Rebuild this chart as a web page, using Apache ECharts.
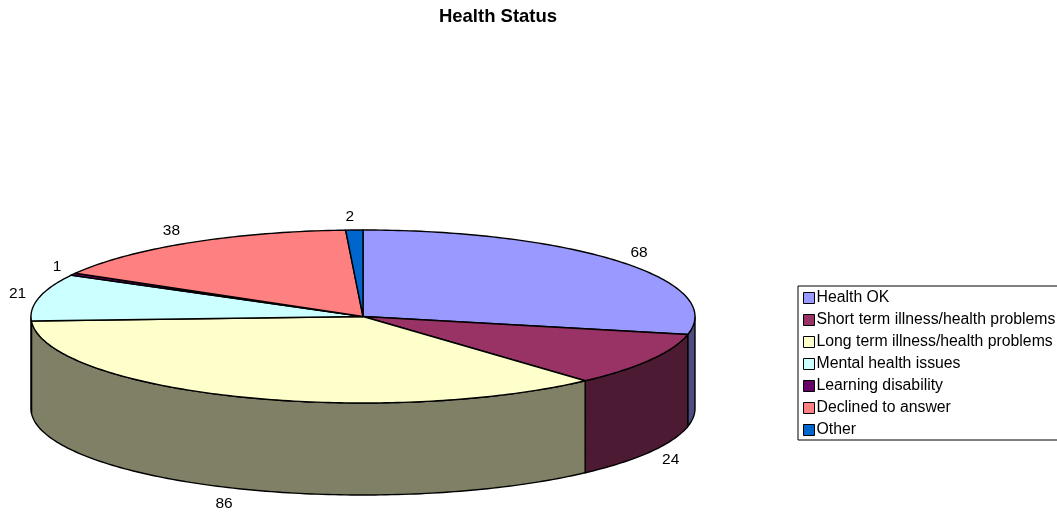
<!DOCTYPE html>
<html>
<head>
<meta charset="utf-8">
<title>Health Status</title>
<style>
  html, body { margin: 0; padding: 0; background: #fff; }
  #main { width: 1057px; height: 512px; }
</style>
<script src="https://cdn.jsdelivr.net/npm/echarts@6/dist/echarts.min.js"></script>
</head>
<body>
<div id="main"></div>
<script>
// data
var categories = [
  'Health OK',
  'Short term illness/health problems',
  'Long term illness/health problems',
  'Mental health issues',
  'Learning disability',
  'Declined to answer',
  'Other'
]
var values = [68, 24, 86, 21, 1, 38, 2]
var colors = ['#9999FF', '#993366', '#FFFFCC', '#CCFFFF', '#660066', '#FF8080', '#0066CC']
var sideColors = ['#4D4D80', '#4D1A33', '#808066', '#668080', '#330033', '#804040', '#003366']

// pie geometry, the pie is an ellipse with a wall below it
var cx = 363
var cy = 316.5
var rx = 332
var ry = 86.5
var depth = 92
// small per label nudges, the labels do not sit on one exact ring
var labelNudge = [[0, 0], [0, 1], [-3, 2], [1, 0], [4, 0], [-6, 1], [-4, 1]]

var total = 0
for (var i = 0; i < values.length; i++) {
  total += values[i]
}

// t is degrees clockwise from the top of the ellipse
function rim(t, drop) {
  var a = t * Math.PI / 180
  return [cx + rx * Math.sin(a), cy - ry * Math.cos(a) + drop]
}

function arcPoints(from, to, drop) {
  var pts = []
  var n = Math.max(2, Math.ceil(Math.abs(to - from)))
  for (var k = 0; k <= n; k++) {
    pts.push(rim(from + (to - from) * k / n, drop))
  }
  return pts
}

function renderSlice(index) {
  return function (params, api) {
    var before = 0
    for (var j = 0; j < index; j++) {
      before += values[j]
    }
    var start = before / total * 360
    var end = (before + api.value(0)) / total * 360
    var mid = (start + end) / 2
    var children = []

    // only the front half of the wall is seen
    var wallFrom = Math.max(start, 90)
    var wallTo = Math.min(end, 270)
    if (wallTo > wallFrom) {
      var wall = arcPoints(wallFrom, wallTo, 0).concat(arcPoints(wallTo, wallFrom, depth))
      children.push({
        type: 'polygon',
        z2: 1,
        shape: { points: wall },
        style: { fill: sideColors[index], stroke: '#000', lineWidth: 1.4 }
      })
    }

    children.push({
      type: 'polygon',
      z2: 2,
      shape: { points: [[cx, cy]].concat(arcPoints(start, end, 0)) },
      style: { fill: colors[index], stroke: '#000', lineWidth: 1.4 }
    })

    // value label just outside the rim
    var a = mid * Math.PI / 180
    var front = mid > 90 && mid < 270
    children.push({
      type: 'text',
      z2: 3,
      style: {
        text: String(api.value(0)),
        x: cx + rx * 1.07 * Math.sin(a) + labelNudge[index][0],
        y: cy - ry * 1.17 * Math.cos(a) + (front ? depth : 0) + labelNudge[index][1],
        fill: '#000',
        font: '15.5px "Liberation Sans", Arial, sans-serif',
        align: 'center',
        verticalAlign: 'middle'
      }
    })
    return { type: 'group', children: children }
  }
}

var series = []
for (var n = 0; n < categories.length; n++) {
  series.push({
    name: categories[n],
    type: 'custom',
    coordinateSystem: 'none',
    renderItem: renderSlice(n),
    data: [[values[n]]],
    itemStyle: { color: colors[n] },
    silent: true
  })
}

var chart = echarts.init(document.getElementById('main'))
chart.setOption({
  animation: false,
  backgroundColor: '#fff',
  title: {
    text: 'Health Status',
    left: 493,
    top: 2,
    textAlign: 'center',
    textStyle: {
      fontFamily: '"Liberation Sans", Arial, sans-serif',
      fontSize: 18.5,
      fontWeight: 'bold',
      color: '#000'
    }
  },
  legend: {
    orient: 'vertical',
    left: 798,
    top: 286,
    // right padding pushes the box edge off the page, as in the reference
    padding: [4, 6, 2, 5],
    borderColor: '#000',
    borderWidth: 1,
    itemWidth: 11,
    itemHeight: 11,
    itemGap: 6,
    icon: 'rect',
    data: categories,
    itemStyle: { borderColor: '#000', borderWidth: 1 },
    textStyle: {
      fontFamily: '"Liberation Sans", Arial, sans-serif',
      fontSize: 15.8,
      color: '#000',
      padding: [0, 0, 0, -3]
    }
  },
  series: series
})
</script>
</body>
</html>
